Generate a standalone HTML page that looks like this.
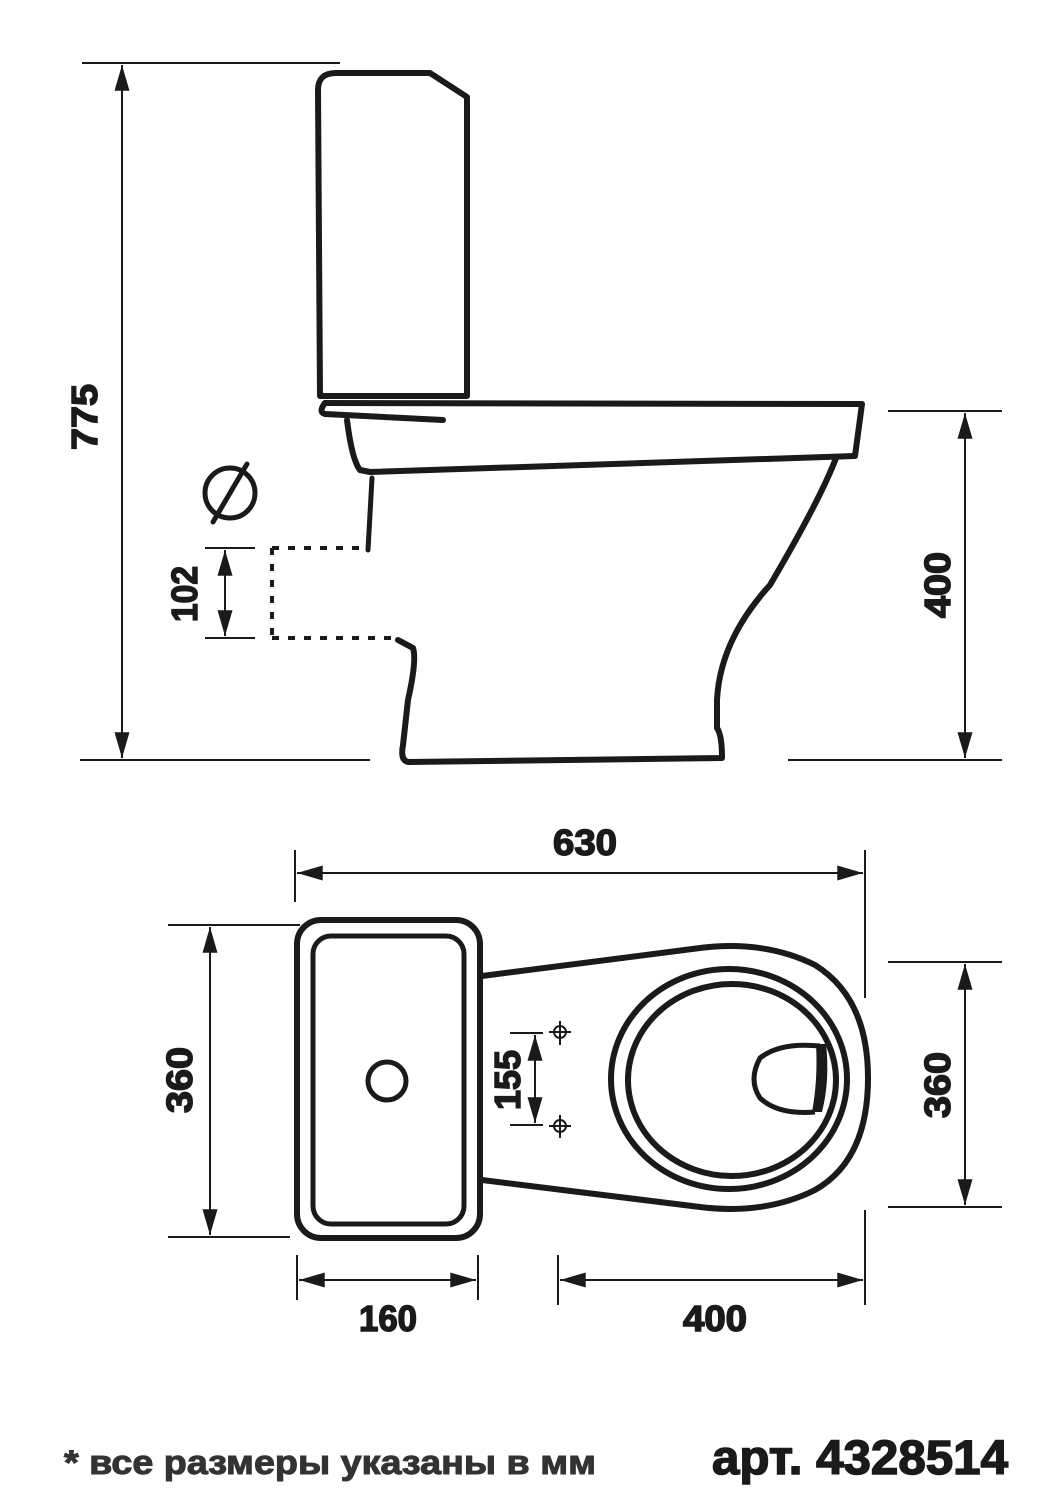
<!DOCTYPE html>
<html><head><meta charset="utf-8"><style>html,body{margin:0;padding:0;background:#fff}svg{display:block}</style></head>
<body>
<svg width="1061" height="1500" viewBox="0 0 1061 1500" xmlns="http://www.w3.org/2000/svg" font-family="Liberation Sans, sans-serif" font-weight="bold">
<defs>
<marker id="b" viewBox="0 0 24 14" refX="24" refY="7" markerWidth="26" markerHeight="15" markerUnits="userSpaceOnUse" orient="auto-start-reverse"><path d="M0,0 L24,7 L0,14 Z" fill="#1a1a1a"/></marker>
</defs>
<g stroke="#1a1a1a" fill="none" stroke-linecap="round" stroke-linejoin="round">
<path d="M320,396 L318,90 Q318,73 336,73 L430,73 L467,97 L467,396 Z" stroke-width="6"/>
<path d="M325,403 L862,404 L855,456 L370,472" stroke-width="6"/>
<path d="M325,403 Q318,412 325,414 L443,420" stroke-width="6"/>
<path d="M347,420 Q352,460 360,470 L370,472" stroke-width="6"/>
<path d="M372,478 L368,550" stroke-width="5"/>
<path d="M836,458 Q820,500 770,585 Q720,640 717,700 L717,728 Q722,735 722,758 L408,762 Q400,760 403,745 L408,700 Q417,660 413,648 L398,640" stroke-width="6"/>
<g stroke-width="4" stroke-dasharray="7,9" stroke-linecap="butt">
<line x1="272" y1="548" x2="362" y2="548"/>
<line x1="272" y1="638" x2="394" y2="638"/>
<line x1="272" y1="548" x2="272" y2="638"/>
</g>
<circle cx="230" cy="493" r="25" stroke-width="5"/>
<line x1="213" y1="522" x2="247" y2="464" stroke-width="5"/>
</g>
<g stroke="#1a1a1a" stroke-width="2" fill="none">
<line x1="82" y1="63" x2="340" y2="63"/>
<line x1="80" y1="760" x2="370" y2="760"/>
<line x1="122" y1="65" x2="122" y2="758" marker-start="url(#b)" marker-end="url(#b)"/>
<line x1="888" y1="411" x2="1002" y2="411"/>
<line x1="788" y1="760" x2="1002" y2="760"/>
<line x1="965" y1="413" x2="965" y2="758" marker-start="url(#b)" marker-end="url(#b)"/>
<line x1="205" y1="548" x2="255" y2="548"/>
<line x1="205" y1="638" x2="255" y2="638"/>
<line x1="225" y1="550" x2="225" y2="636" marker-start="url(#b)" marker-end="url(#b)"/>
<line x1="295" y1="850" x2="295" y2="902"/>
<line x1="865" y1="850" x2="865" y2="998"/>
<line x1="297" y1="873" x2="863" y2="873" marker-start="url(#b)" marker-end="url(#b)"/>
<line x1="168" y1="925" x2="300" y2="925"/>
<line x1="168" y1="1237" x2="290" y2="1237"/>
<line x1="210" y1="927" x2="210" y2="1235" marker-start="url(#b)" marker-end="url(#b)"/>
<line x1="888" y1="962" x2="1002" y2="962"/>
<line x1="888" y1="1207" x2="1002" y2="1207"/>
<line x1="965" y1="964" x2="965" y2="1205" marker-start="url(#b)" marker-end="url(#b)"/>
<line x1="297" y1="1255" x2="297" y2="1300"/>
<line x1="478" y1="1255" x2="478" y2="1300"/>
<line x1="299" y1="1280" x2="476" y2="1280" marker-start="url(#b)" marker-end="url(#b)"/>
<line x1="558" y1="1255" x2="558" y2="1305"/>
<line x1="865" y1="1210" x2="865" y2="1305"/>
<line x1="560" y1="1280" x2="863" y2="1280" marker-start="url(#b)" marker-end="url(#b)"/>
<line x1="510" y1="1033" x2="543" y2="1033"/>
<line x1="510" y1="1125" x2="543" y2="1125"/>
<line x1="535" y1="1035" x2="535" y2="1123" marker-start="url(#b)" marker-end="url(#b)"/>
<circle cx="560" cy="1032" r="6"/><line x1="549" y1="1032" x2="571" y2="1032"/><line x1="560" y1="1021" x2="560" y2="1045"/>
<circle cx="560" cy="1126" r="6"/><line x1="549" y1="1126" x2="571" y2="1126"/><line x1="560" y1="1115" x2="560" y2="1138"/>
</g>
<g stroke="#1a1a1a" fill="none" stroke-width="6">
<rect x="297" y="920" width="183" height="318" rx="24"/>
<rect x="313" y="936" width="151" height="288" rx="18" stroke-width="5"/>
<circle cx="387" cy="1081" r="19" stroke-width="5"/>
<path d="M482,976 L700,948 Q765,940 815,965 Q868,998 868,1078 Q868,1160 815,1190 Q765,1215 700,1207 L482,1180"/>
<ellipse cx="729" cy="1079" rx="118" ry="110" stroke-width="6"/>
<ellipse cx="732" cy="1080" rx="104" ry="96" stroke-width="6"/>
<path d="M820,1046 Q780,1042 760,1058 Q748,1080 760,1098 Q778,1115 815,1112" stroke-width="5"/>
</g>
<path d="M816,1044 L826,1044 Q830,1080 822,1112 L812,1112 Q818,1080 816,1044 Z" fill="#1a1a1a"/>
<g fill="#1a1a1a" stroke="#1a1a1a" stroke-width="1.5" font-size="36">
<text x="0" y="0" transform="translate(97,417) rotate(-90)" text-anchor="middle" textLength="66" lengthAdjust="spacingAndGlyphs">775</text>
<text x="0" y="0" transform="translate(950,585) rotate(-90)" text-anchor="middle" textLength="66" lengthAdjust="spacingAndGlyphs">400</text>
<text x="0" y="0" transform="translate(197,594) rotate(-90)" text-anchor="middle" textLength="56" lengthAdjust="spacingAndGlyphs">102</text>
<text x="585" y="855" text-anchor="middle" textLength="64" lengthAdjust="spacingAndGlyphs">630</text>
<text x="0" y="0" transform="translate(192,1080) rotate(-90)" text-anchor="middle" textLength="66" lengthAdjust="spacingAndGlyphs">360</text>
<text x="0" y="0" transform="translate(950,1085) rotate(-90)" text-anchor="middle" textLength="66" lengthAdjust="spacingAndGlyphs">360</text>
<text x="0" y="0" transform="translate(520,1080) rotate(-90)" text-anchor="middle" textLength="60" lengthAdjust="spacingAndGlyphs">155</text>
<text x="388" y="1331" text-anchor="middle" textLength="58" lengthAdjust="spacingAndGlyphs">160</text>
<text x="715" y="1331" text-anchor="middle" textLength="64" lengthAdjust="spacingAndGlyphs">400</text>
</g>
<text x="64" y="1474" font-size="34" fill="#333" stroke="#333" stroke-width="1" textLength="532" lengthAdjust="spacingAndGlyphs">* все размеры указаны в мм</text>
<text x="712" y="1474" font-size="48" fill="#1a1a1a" stroke="#1a1a1a" stroke-width="1.5" textLength="296" lengthAdjust="spacingAndGlyphs">арт. 4328514</text>
</svg>
</body></html>
